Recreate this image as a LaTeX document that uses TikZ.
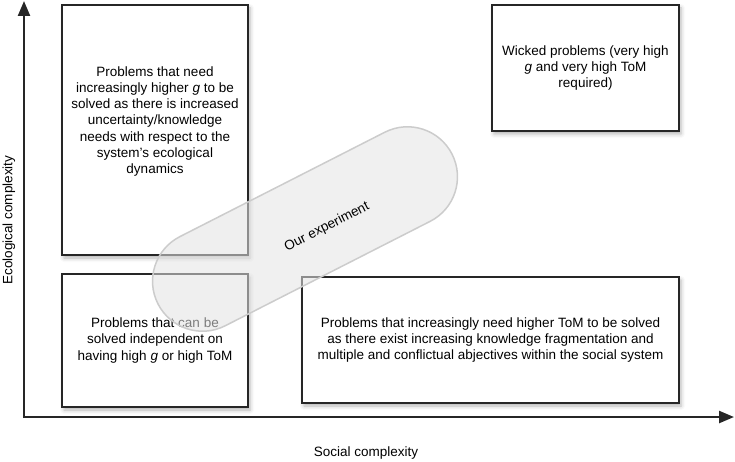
\documentclass[tikz,border=0pt]{standalone}
\usepackage{fontspec}
\setmainfont{Liberation Sans}
\usetikzlibrary{arrows.meta,shadows.blur}

\begin{document}
\begin{tikzpicture}[
    x=1pt, y=-1pt,
    every node/.style={font=\fontsize{13.5}{16.2}\selectfont, align=center, inner sep=0pt},
    zone/.style={draw=black!85, line width=2.8pt, fill=white,
        blur shadow={shadow xshift=2pt, shadow yshift=-3pt, shadow blur radius=4pt, shadow opacity=30}},
    axis/.style={draw=black!85, line width=2.4pt, -{Triangle[length=15pt,width=12pt]}},
    pill/.style={draw=gray!40, line width=1.5pt, fill=gray!22, fill opacity=0.55,
        rounded corners=50pt, minimum width=330pt, minimum height=100pt}
]
\useasboundingbox (0,0) rectangle (735,462);

\coordinate (origin) at (24,417);
\coordinate (ytip) at (24,1);
\coordinate (xtip) at (734,417);
\draw[axis] ([yshift=-1.2pt]origin) -- (ytip);
\draw[axis] ([xshift=-1.2pt]origin) -- (xtip);
\node[rotate=90] (ylabel) at (9,220) {Ecological complexity};
\node (xlabel) at (366,453) {Social complexity};

\node[zone, minimum width=186pt, minimum height=250pt] (ecobox) at (155,130) {};
\node (ecotext) at ([yshift=8.5pt]ecobox.center) {Problems that need\\
    increasingly higher \textit{g} to be\\
    solved as there is increased\\
    uncertainty/knowledge\\
    needs with respect to the\\
    system's ecological\\
    dynamics};
\node[zone, minimum width=187pt, minimum height=126pt] (wicked) at (585.5,68) {Wicked problems (very high\\
    \textit{g} and very high ToM\\
    required)};
\node[zone, minimum width=186pt, minimum height=133pt] (simple) at (155,340.5) {Problems that can be\\
    solved independent on\\
    having high \textit{g} or high ToM};
\node[zone, minimum width=377pt, minimum height=126pt] (social) at (490.5,340) {Problems that increasingly need higher ToM to be solved\\
    as there exist increasing knowledge fragmentation and\\
    multiple and conflictual abjectives within the social system};

\node[pill, rotate=27] (experiment) at (305,229) {};
\node[rotate=27] (exptext) at (327,227) {Our experiment};
\end{tikzpicture}
\end{document}
